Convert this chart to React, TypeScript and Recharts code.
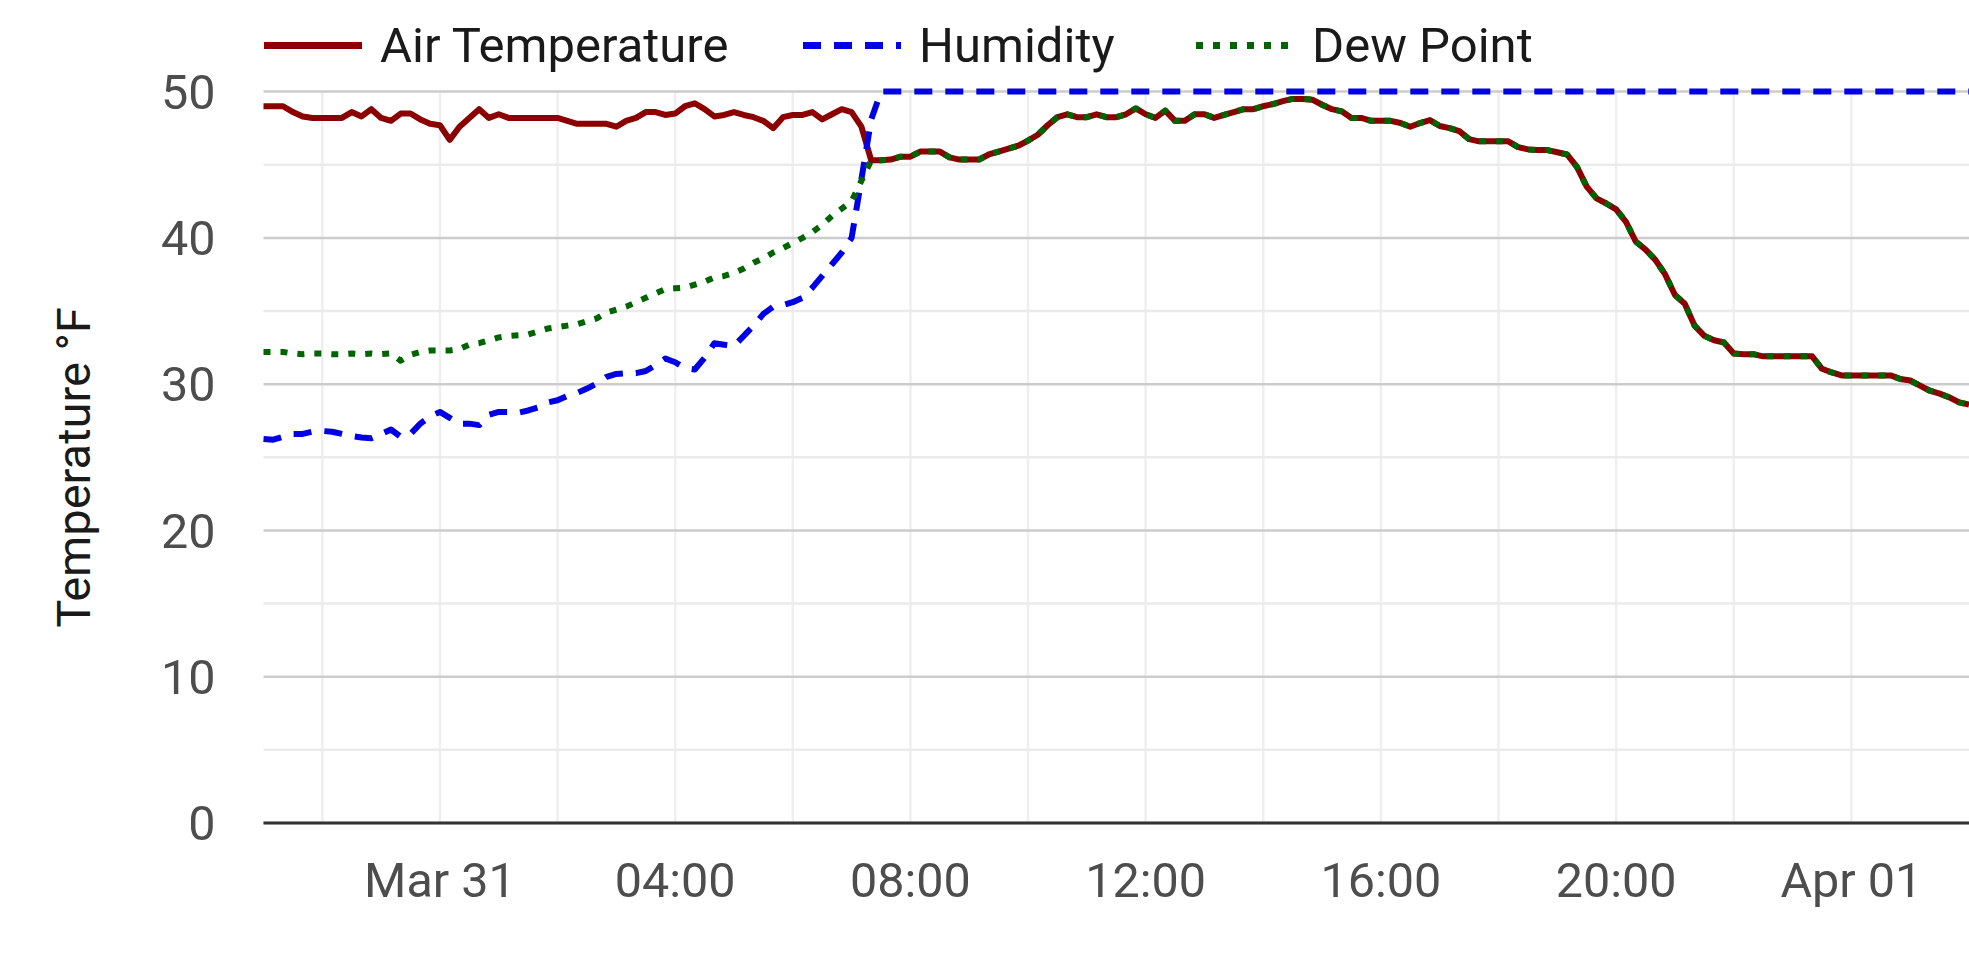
import { LineChart, Line, XAxis, YAxis, CartesianGrid, Legend } from "recharts";

// readings every 10 minutes, hours counted from Mar 31 00:00
const START_HOUR = -3;
const STEPS_PER_HOUR = 6;

const airTemp = [
  49.0, 49.0, 49.0, 48.6, 48.3, 48.2, 48.2, 48.2, 48.2, 48.6, 48.3, 48.8,
  48.2, 48.0, 48.5, 48.5, 48.1, 47.8, 47.7, 46.7, 47.6, 48.2, 48.8, 48.2,
  48.45, 48.2, 48.2, 48.2, 48.2, 48.2, 48.2, 48.0, 47.8, 47.8, 47.8, 47.8,
  47.6, 48.0, 48.2, 48.6, 48.6, 48.4, 48.5, 49.0, 49.2, 48.8, 48.3, 48.4,
  48.6, 48.4, 48.25, 48.0, 47.5, 48.25, 48.4, 48.4, 48.6, 48.1, 48.45, 48.8,
  48.6, 47.6, 45.3, 45.3, 45.35, 45.55, 45.55, 45.9, 45.9, 45.9, 45.5, 45.35,
  45.35, 45.35, 45.7, 45.9, 46.1, 46.3, 46.65, 47.05, 47.7, 48.25, 48.45, 48.25,
  48.25, 48.45, 48.25, 48.25, 48.45, 48.85, 48.45, 48.2, 48.7, 48.0, 48.0, 48.45,
  48.45, 48.2, 48.4, 48.6, 48.8, 48.8, 49.0, 49.15, 49.35, 49.5, 49.5, 49.45,
  49.1, 48.8, 48.65, 48.2, 48.2, 48.0, 48.0, 48.0, 47.85, 47.6, 47.85, 48.05,
  47.65, 47.5, 47.3, 46.75, 46.6, 46.6, 46.6, 46.6, 46.2, 46.05, 46.0, 46.0,
  45.85, 45.7, 44.85, 43.5, 42.7, 42.35, 41.95, 41.1, 39.75, 39.2, 38.5, 37.5,
  36.1, 35.5, 34.0, 33.3, 33.0, 32.85, 32.1, 32.05, 32.05, 31.9, 31.9, 31.9,
  31.9, 31.9, 31.9, 31.05, 30.8, 30.6, 30.6, 30.6, 30.6, 30.6, 30.6, 30.35,
  30.25, 29.9, 29.55, 29.35, 29.1, 28.75, 28.6,
];

// relative humidity in percent (drawn on its own 0-100 scale)
const humidity = [
  52.5, 52.4, 52.8, 53.2, 53.2, 53.5, 53.6, 53.5, 53.2, 52.9, 52.7, 52.6,
  53.2, 53.8, 52.8, 53.2, 54.6, 55.6, 56.2, 55.4, 54.6, 54.6, 54.4, 55.8,
  56.2, 56.2, 56.1, 56.4, 56.8, 57.5, 57.8, 58.4, 58.8, 59.4, 60.1, 61.0,
  61.4, 61.5, 61.5, 61.8, 62.6, 63.5, 63.0, 62.2, 62.0, 63.6, 65.6, 65.4,
  65.2, 66.6, 68.0, 69.6, 70.6, 70.8, 71.2, 71.8, 73.2, 74.8, 76.4, 78.0,
  80.0, 88.0, 96.2, 100, 100, 100, 100, 100, 100, 100, 100, 100,
  100, 100, 100, 100, 100, 100, 100, 100, 100, 100, 100, 100,
  100, 100, 100, 100, 100, 100, 100, 100, 100, 100, 100, 100,
  100, 100, 100, 100, 100, 100, 100, 100, 100, 100, 100, 100,
  100, 100, 100, 100, 100, 100, 100, 100, 100, 100, 100, 100,
  100, 100, 100, 100, 100, 100, 100, 100, 100, 100, 100, 100,
  100, 100, 100, 100, 100, 100, 100, 100, 100, 100, 100, 100,
  100, 100, 100, 100, 100, 100, 100, 100, 100, 100, 100, 100,
  100, 100, 100, 100, 100, 100, 100, 100, 100, 100, 100, 100,
  100, 100, 100, 100, 100, 100, 100,
];

const dewPoint = [
  32.2, 32.2, 32.2, 32.1, 32.05, 32.1, 32.1, 32.05, 32.05, 32.1, 32.05, 32.1,
  32.05, 32.1, 31.6, 32.0, 32.2, 32.3, 32.3, 32.3, 32.4, 32.7, 32.8, 33.0,
  33.2, 33.3, 33.35, 33.4, 33.6, 33.8, 33.9, 34.0, 34.1, 34.3, 34.5, 34.9,
  35.1, 35.3, 35.6, 35.9, 36.2, 36.5, 36.55, 36.6, 36.8, 37.0, 37.3, 37.4,
  37.6, 37.9, 38.3, 38.6, 39.0, 39.3, 39.65, 40.0, 40.4, 40.9, 41.5, 42.0,
  42.5, 43.9, 45.3, 45.3, 45.35, 45.55, 45.55, 45.9, 45.9, 45.9, 45.5, 45.35,
  45.35, 45.35, 45.7, 45.9, 46.1, 46.3, 46.65, 47.05, 47.7, 48.25, 48.45, 48.25,
  48.25, 48.45, 48.25, 48.25, 48.45, 48.85, 48.45, 48.2, 48.7, 48.0, 48.0, 48.45,
  48.45, 48.2, 48.4, 48.6, 48.8, 48.8, 49.0, 49.15, 49.35, 49.5, 49.5, 49.45,
  49.1, 48.8, 48.65, 48.2, 48.2, 48.0, 48.0, 48.0, 47.85, 47.6, 47.85, 48.05,
  47.65, 47.5, 47.3, 46.75, 46.6, 46.6, 46.6, 46.6, 46.2, 46.05, 46.0, 46.0,
  45.85, 45.7, 44.85, 43.5, 42.7, 42.35, 41.95, 41.1, 39.75, 39.2, 38.5, 37.5,
  36.1, 35.5, 34.0, 33.3, 33.0, 32.85, 32.1, 32.05, 32.05, 31.9, 31.9, 31.9,
  31.9, 31.9, 31.9, 31.05, 30.8, 30.6, 30.6, 30.6, 30.6, 30.6, 30.6, 30.35,
  30.25, 29.9, 29.55, 29.35, 29.1, 28.75, 28.6,
];

const seriesNames = ["Air Temperature", "Humidity", "Dew Point"];
const xTicks = [0, 4, 8, 12, 16, 20, 24];
const xTickLabels = ["Mar 31", "04:00", "08:00", "12:00", "16:00", "20:00", "Apr 01"];
const xGridHours = [-2, 0, 2, 4, 6, 8, 10, 12, 14, 16, 18, 20, 22, 24];
const yTicks = [0, 10, 20, 30, 40, 50];
const yMinorTicks = [5, 15, 25, 35, 45];

const data = airTemp.map((v, i) => ({
  t: START_HOUR + i / STEPS_PER_HOUR,
  air: v,
  humidity: humidity[i],
  dew: dewPoint[i],
}));

const legendLefts = [264, 803, 1196];

function LegendKeys(props: any) {
  const items = [...(props.payload || [])].sort(
    (a: any, b: any) => seriesNames.indexOf(a.value) - seriesNames.indexOf(b.value)
  );
  return (
    <div style={{ height: 81.6, position: "relative" }}>
      {items.map((p: any, idx: number) => (
        <div
          key={p.value}
          style={{
            position: "absolute",
            left: legendLefts[idx],
            top: 35,
            transform: "translateY(-50%)",
            display: "flex",
            alignItems: "center",
          }}
        >
          <svg width={98} height={10} style={{ display: "block" }}>
            <line
              x1={0}
              y1={5}
              x2={98}
              y2={5}
              stroke={p.color}
              strokeWidth={7}
              strokeDasharray={p.payload?.strokeDasharray}
            />
          </svg>
          <span style={{ marginLeft: 18, fontSize: 49, lineHeight: 1, color: "#1a1a1a" }}>
            {p.value}
          </span>
        </div>
      ))}
    </div>
  );
}

function YTitle(props: any) {
  const vb = props.viewBox || { x: 0, y: 91.6, width: 263.5, height: 731.4 };
  const cx = vb.x + 73;
  const cy = vb.y + vb.height / 2 + 10;
  return (
    <text
      x={cx}
      y={cy}
      dy="0.355em"
      transform={`rotate(-90 ${cx} ${cy})`}
      textAnchor="middle"
      fontSize={47}
      fill="#1a1a1a"
    >
      Temperature °F
    </text>
  );
}

export default function App() {
  return (
    <div
      style={{
        position: "absolute",
        left: 0,
        top: 0,
        width: 1969,
        height: 959,
        overflow: "hidden",
        background: "#ffffff",
        fontFamily: "Roboto, 'Noto Sans', sans-serif",
      }}
    >
      <LineChart
        width={1969}
        height={959}
        data={data}
        margin={{ top: 10, right: 0, bottom: 0, left: 0 }}
      >
        <CartesianGrid horizontal={false} verticalValues={xGridHours} stroke="#efefef" strokeWidth={2.5} />
        <CartesianGrid vertical={false} horizontalValues={yMinorTicks} stroke="#ebebeb" strokeWidth={2.5} />
        <CartesianGrid vertical={false} horizontalValues={yTicks} stroke="#cccccc" strokeWidth={2.5} />

        <XAxis
          type="number"
          dataKey="t"
          domain={[-3, 26]}
          ticks={xTicks}
          interval={0}
          tickFormatter={(v: number) => xTickLabels[xTicks.indexOf(v)]}
          tickLine={false}
          tickSize={0}
          tickMargin={40}
          height={136}
          axisLine={{ stroke: "#333333", strokeWidth: 3 }}
          tick={{ fill: "#4d4d4d", fontSize: 48.5 }}
        />
        <YAxis
          type="number"
          domain={[0, 50]}
          ticks={yTicks}
          interval={0}
          width={263.5}
          axisLine={false}
          tickLine={false}
          tickSize={0}
          tickMargin={48}
          tick={{ fill: "#4d4d4d", fontSize: 48.5 }}
          label={{ content: YTitle }}
        />
        <YAxis yAxisId="hum" orientation="right" domain={[0, 100]} hide />

        <Legend verticalAlign="top" align="left" content={LegendKeys} />

        <Line
          name="Air Temperature"
          dataKey="air"
          stroke="#8b0000"
          strokeWidth={6}
          strokeLinejoin="round"
          dot={false}
          activeDot={false}
          isAnimationActive={false}
        />
        <Line
          name="Humidity"
          dataKey="humidity"
          yAxisId="hum"
          stroke="#0000e6"
          strokeWidth={6}
          strokeDasharray="18 13"
          strokeLinejoin="round"
          dot={false}
          activeDot={false}
          isAnimationActive={false}
        />
        <Line
          name="Dew Point"
          dataKey="dew"
          stroke="#006400"
          strokeWidth={6}
          strokeDasharray="7 10"
          strokeLinejoin="round"
          dot={false}
          activeDot={false}
          isAnimationActive={false}
        />
      </LineChart>
    </div>
  );
}
